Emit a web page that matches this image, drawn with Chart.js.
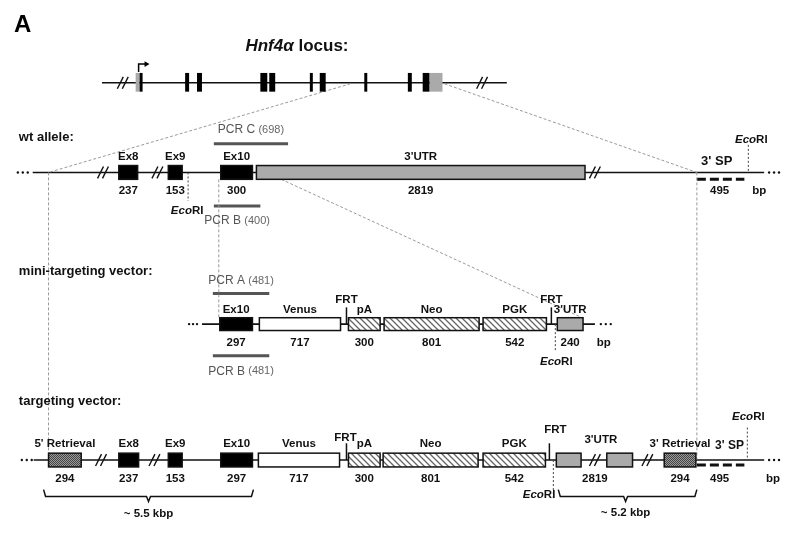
<!DOCTYPE html>
<html>
<head>
<meta charset="utf-8">
<script src="https://cdn.jsdelivr.net/npm/chart.js@4.4.1/dist/chart.umd.min.js"></script>
<style>
  html, body { margin: 0; padding: 0; background: #fff; }
  #c { display: block; }
</style>
</head>
<body>
<canvas id="c" width="785" height="533"></canvas>
<script>
// Row baselines (diagram units, y grows downward)
const rowY = { locus: 80, wt: 171, mini: 325, tv: 463 };

// Hnf4a locus exons (k = coding, g = UTR)
const locusStart = [133, 137, 183, 195, 259, 268, 309, 319, 364, 408, 423, 430];
const locusEnd   = [137, 140, 187, 200, 266, 274, 312, 325, 367, 412, 430, 443];
const locusFill  = ['g', 'k', 'k', 'k', 'k', 'k', 'k', 'k', 'k', 'k', 'k', 'g'];
const locusBreaks = [120, 483];

// wt allele
const wtNames = ['Ex8', 'Ex9', 'Ex10', "3'UTR"];
const wtSizes = ['237', '153', '300', '2819'];
const wtStart = [116, 166, 219, 255];
const wtEnd   = [135, 180, 251, 587];
const wtFill  = ['k', 'k', 'k', 'g'];
const wtBreaks = [100, 155, 597];

// mini-targeting vector
const miniNames = ['Ex10', 'Venus', 'pA', 'Neo', 'PGK', "3'UTR"];
const miniSizes = ['297', '717', '300', '801', '542', '240'];
const miniStart = [218, 258, 348, 384, 484, 559];
const miniEnd   = [251, 340, 380, 480, 548, 585];
const miniFill  = ['k', 'w', 'h', 'h', 'h', 'g'];

// targeting vector
const tvNames = ["5' Retrieval", 'Ex8', 'Ex9', 'Ex10', 'Venus', 'pA', 'Neo', 'PGK', '', '', "3' Retrieval"];
const tvSizes = ['294', '237', '153', '297', '717', '300', '801', '542', '', '', '294'];
const tvStart = [45, 116, 166, 219, 257, 348, 383, 484, 558, 609, 667];
const tvEnd   = [78, 136, 180, 251, 339, 380, 479, 547, 583, 635, 699];
const tvFill  = ['d', 'k', 'k', 'k', 'w', 'h', 'h', 'h', 'g', 'g', 'd'];
const tvBreaks = [98, 152, 597, 650];

// PCR products
const pcrLabels = ['PCR C', 'PCR B', 'PCR A', 'PCR B'];
const pcrSizes  = ['(698)', '(400)', '(481)', '(481)'];
const pcrFrom   = [212, 212, 211, 211];
const pcrTo     = [287, 259, 268, 268];
const pcrY      = [142, 205, 294, 357];
const pcrLabelY = [128, 220, 281, 373];

// EcoRI sites: x, line from/to, label position
const ecoX      = [186, 752, 557, 751, 555];
const ecoFrom   = [171, 143, 325, 430, 463];
const ecoTo     = [200, 171, 352, 463, 503];
const ecoLabelX = [185, 755, 558, 752, 557];
const ecoLabelY = [210, 138, 363, 419, 498];
const ecoAlign  = ['center', 'center', 'center', 'center', 'right'];

// FRT sites
const frtX      = [346, 553, 346, 551];
const frtRow    = ['mini', 'mini', 'tv', 'tv'];
const frtLabelX = [346, 553, 345, 557];
const frtLabelY = [300, 300, 440, 432];

const C = { black: '#111', grey: '#aaa', guide: '#9a9a9a', pcr: '#555' };

function seg(points, color, width, dash) {
  return {
    type: 'line',
    data: points,
    borderColor: color,
    borderWidth: width,
    borderDash: dash || [],
    pointRadius: 0,
    fill: false,
    tension: 0
  };
}

const pts = (arr) => arr.map(p => ({ x: p[0], y: p[1] }));

const datasets = [
  // guide lines
  seg(pts([[350, 81], [45, 171]]), C.guide, 1, [3, 2]),
  seg(pts([[445, 81], [700, 171]]), C.guide, 1, [3, 2]),
  seg(pts([[45, 171], [45, 456]]), C.guide, 1, [3, 2]),
  seg(pts([[700, 171], [700, 463]]), C.guide, 1, [3, 2]),
  seg(pts([[217, 178], [217, 319]]), C.guide, 1, [3, 2]),
  seg(pts([[280, 178], [583, 318]]), C.guide, 1, [3, 2]),
  // backbones
  seg(pts([[99, rowY.locus], [508, rowY.locus]]), C.black, 1.6),
  seg(pts([[29, rowY.wt], [768, rowY.wt]]), C.black, 1.6),
  seg(pts([[200, rowY.mini], [597, rowY.mini]]), C.black, 1.6),
  seg(pts([[30, rowY.tv], [768, rowY.tv]]), C.black, 1.6),
  // braces
  seg(pts([[40, 493], [42, 500], [144, 500], [146, 505], [148, 500], [250, 500], [252, 493]]), C.black, 1.5),
  seg(pts([[560, 493], [562, 500], [626, 500], [628, 505], [630, 500], [698, 500], [700, 493]]), C.black, 1.5),
  // 3' SP probe
  seg(pts([[700, 178], [748, 178]]), C.black, 3, [9, 4]),
  seg(pts([[700, 468], [748, 468]]), C.black, 3, [9, 4]),
  // continuation dots
  {
    type: 'scatter',
    data: pts([[14, 171], [19, 171], [24, 171], [773, 171], [778, 171], [783, 171],
               [187, 325], [191, 325], [195, 325], [603, 325], [608, 325], [613, 325],
               [18, 463], [23, 463], [28, 463], [773, 463], [778, 463], [783, 463]]),
    pointRadius: 1.2,
    pointBackgroundColor: C.black,
    pointBorderWidth: 0
  }
];

pcrFrom.forEach((f, i) => {
  datasets.push(seg(pts([[f, pcrY[i]], [pcrTo[i], pcrY[i]]]), C.pcr, 3));
});

function makeHatch() {
  const c = document.createElement('canvas');
  c.width = 6; c.height = 6;
  const g = c.getContext('2d');
  g.fillStyle = '#fff';
  g.fillRect(0, 0, 6, 6);
  g.strokeStyle = '#666';
  g.lineWidth = 1.3;
  g.beginPath();
  g.moveTo(-1, -1); g.lineTo(7, 7);
  g.moveTo(-1, 5); g.lineTo(1, 7);
  g.moveTo(5, -1); g.lineTo(7, 1);
  g.stroke();
  return g.createPattern(c, 'repeat');
}

function makeDots() {
  const c = document.createElement('canvas');
  c.width = 2; c.height = 2;
  const g = c.getContext('2d');
  g.fillStyle = '#9a9a9a';
  g.fillRect(0, 0, 2, 2);
  g.fillStyle = '#444';
  g.fillRect(0, 0, 1, 1);
  g.fillRect(1, 1, 1, 1);
  return g.createPattern(c, 'repeat');
}

const FONT = "'Liberation Sans', Arial, sans-serif";

const diagram = {
  id: 'diagram',
  afterDatasetsDraw(chart) {
    const ctx = chart.ctx;
    const xs = chart.scales.x, ys = chart.scales.y;
    const X = v => xs.getPixelForValue(v);
    const Y = v => ys.getPixelForValue(v);
    const fills = { k: '#000', g: C.grey, w: '#fff', h: makeHatch(), d: makeDots() };

    function text(t, x, y, font, color, align) {
      ctx.font = font;
      ctx.fillStyle = color || '#111';
      ctx.textAlign = align || 'center';
      ctx.textBaseline = 'middle';
      ctx.fillText(t, X(x), Y(y));
    }

    function rich(parts, x, y, align) {
      let w = 0;
      parts.forEach(p => { ctx.font = p[1]; w += ctx.measureText(p[0]).width; });
      let px = X(x);
      if (align === 'center') px -= w / 2;
      if (align === 'right') px -= w;
      ctx.textAlign = 'left';
      ctx.textBaseline = 'middle';
      parts.forEach(p => {
        ctx.font = p[1];
        ctx.fillStyle = p[2] || '#111';
        ctx.fillText(p[0], px, Y(y));
        px += ctx.measureText(p[0]).width;
      });
    }

    function box(x0, x1, y, h, kind) {
      const top = Y(y - h / 2), bottom = Y(y + h / 2);
      ctx.fillStyle = fills[kind];
      ctx.fillRect(X(x0), top, X(x1) - X(x0), bottom - top);
      ctx.lineWidth = 1.5;
      ctx.strokeStyle = '#111';
      ctx.strokeRect(X(x0), top, X(x1) - X(x0), bottom - top);
    }

    function brk(x, y) {
      ctx.save();
      ctx.strokeStyle = '#111';
      ctx.lineWidth = 1.4;
      [-2.5, 2.5].forEach(o => {
        ctx.beginPath();
        ctx.moveTo(X(x + o - 3), Y(y + 6));
        ctx.lineTo(X(x + o + 3), Y(y - 6));
        ctx.stroke();
      });
      ctx.restore();
    }

    function dashedV(x, y0, y1) {
      ctx.save();
      ctx.strokeStyle = '#444';
      ctx.lineWidth = 1;
      ctx.setLineDash([2, 2]);
      ctx.beginPath();
      ctx.moveTo(X(x), Y(y0));
      ctx.lineTo(X(x), Y(y1));
      ctx.stroke();
      ctx.restore();
    }

    const bold = `bold 11.5px ${FONT}`;

    // panel letter and heading
    text('A', 10, 22, `bold 24px ${FONT}`, '#000', 'left');
    rich([['Hnf4α', `italic bold 17px ${FONT}`], [' locus:', `bold 17px ${FONT}`]], 296, 43, 'center');

    // locus
    locusBreaks.forEach(b => brk(b, rowY.locus));
    locusStart.forEach((s, i) => {
      ctx.fillStyle = locusFill[i] === 'k' ? '#000' : C.grey;
      ctx.fillRect(X(s), Y(rowY.locus - 10), X(locusEnd[i]) - X(s), Y(rowY.locus + 9) - Y(rowY.locus - 10));
    });
    // transcription start arrow
    ctx.strokeStyle = '#000';
    ctx.lineWidth = 1.5;
    ctx.beginPath();
    ctx.moveTo(X(136), Y(69)); ctx.lineTo(X(136), Y(61)); ctx.lineTo(X(143), Y(61));
    ctx.stroke();
    ctx.fillStyle = '#000';
    ctx.beginPath();
    ctx.moveTo(X(147), Y(61)); ctx.lineTo(X(142), Y(58)); ctx.lineTo(X(142), Y(64));
    ctx.closePath(); ctx.fill();

    // row titles
    const titleFont = `bold 13px ${FONT}`;
    text('wt allele:', 15, 135, titleFont, '#111', 'left');
    text('mini-targeting vector:', 15, 272, titleFont, '#111', 'left');
    text('targeting vector:', 15, 403, titleFont, '#111', 'left');

    // wt allele
    wtBreaks.forEach(b => brk(b, rowY.wt));
    wtStart.forEach((s, i) => {
      box(s, wtEnd[i], rowY.wt, 14, wtFill[i]);
      const cx = (s + wtEnd[i]) / 2;
      text(wtNames[i], cx, rowY.wt - 16, bold);
      text(wtSizes[i], cx, rowY.wt + 19, bold);
    });
    text("3' SP", 720, 160, `bold 13px ${FONT}`);
    text('495', 723, 190, bold);
    text('bp', 763, 190, bold);

    // mini-targeting vector
    miniStart.forEach((s, i) => {
      box(s, miniEnd[i], rowY.mini, 13, miniFill[i]);
      const cx = (s + miniEnd[i]) / 2;
      text(miniNames[i], cx, rowY.mini - 15, bold);
      text(miniSizes[i], cx, rowY.mini + 19, bold);
    });
    text('bp', 606, 344, bold);

    // targeting vector
    tvBreaks.forEach(b => brk(b, rowY.tv));
    tvStart.forEach((s, i) => {
      box(s, tvEnd[i], rowY.tv, 14, tvFill[i]);
      const cx = (s + tvEnd[i]) / 2;
      if (tvNames[i]) text(tvNames[i], cx, rowY.tv - 16, bold);
      if (tvSizes[i]) text(tvSizes[i], cx, rowY.tv + 19, bold);
    });
    text("3'UTR", 603, 442, bold);
    text('2819', 597, 482, bold);
    text("3' SP", 733, 448, `bold 12px ${FONT}`);
    text('495', 723, 482, bold);
    text('bp', 777, 482, bold);
    text('~ 5.5 kbp', 146, 518, bold);
    text('~ 5.2 kbp', 628, 517, bold);

    // FRT sites
    frtX.forEach((x, i) => {
      const y = rowY[frtRow[i]];
      ctx.strokeStyle = '#111';
      ctx.lineWidth = 1.5;
      ctx.setLineDash([]);
      ctx.beginPath();
      ctx.moveTo(X(x), Y(y)); ctx.lineTo(X(x), Y(y - 17));
      ctx.stroke();
      text('FRT', frtLabelX[i], frtLabelY[i], bold);
    });

    // EcoRI sites
    ecoX.forEach((x, i) => {
      dashedV(x, ecoFrom[i], ecoTo[i]);
      rich([['Eco', `italic bold 11.5px ${FONT}`], ['RI', `bold 11.5px ${FONT}`]], ecoLabelX[i], ecoLabelY[i], ecoAlign[i]);
    });

    // PCR labels
    pcrLabels.forEach((l, i) => {
      rich([[l + ' ', `12px ${FONT}`, '#555'], [pcrSizes[i], `11px ${FONT}`, '#666']], (pcrFrom[i] + pcrTo[i]) / 2, pcrLabelY[i], 'center');
    });
  }
};

new Chart(document.getElementById('c'), {
  type: 'line',
  data: { datasets },
  options: {
    responsive: false,
    animation: false,
    parsing: true,
    layout: { padding: 0 },
    plugins: { legend: { display: false }, tooltip: { enabled: false } },
    scales: {
      x: { type: 'linear', min: 0, max: 785, display: false },
      y: { type: 'linear', min: 0, max: 533, reverse: true, display: false }
    }
  },
  plugins: [diagram]
});
</script>
</body>
</html>
